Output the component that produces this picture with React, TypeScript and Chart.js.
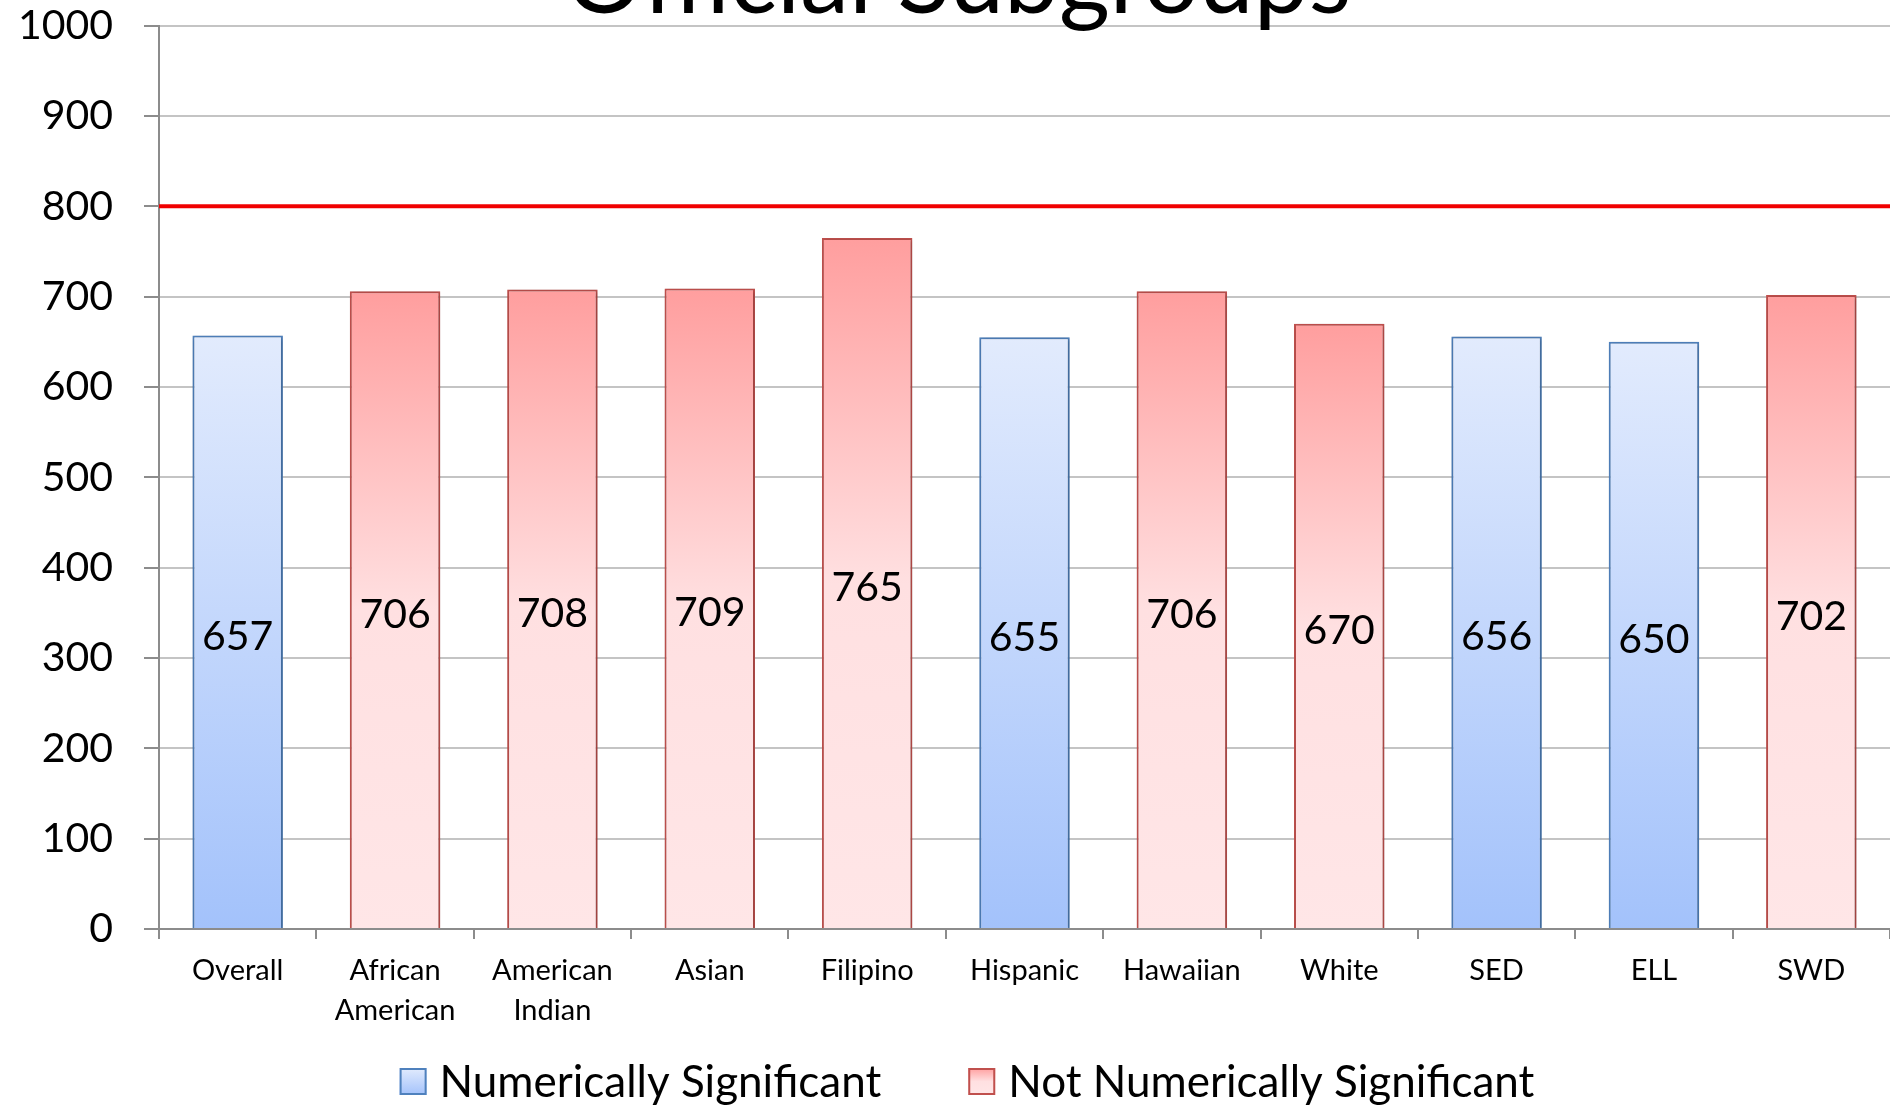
import React, { useEffect, useRef } from 'react';
import { Chart, registerables } from 'chart.js';

Chart.register(...registerables);

const TITLE = 'Official Subgroups';
const CATEGORIES: (string | string[])[] = [
  'Overall',
  ['African', 'American'],
  ['American', 'Indian'],
  'Asian',
  'Filipino',
  'Hispanic',
  'Hawaiian',
  'White',
  'SED',
  'ELL',
  'SWD',
];
const SCORES = [657, 706, 708, 709, 765, 655, 706, 670, 656, 650, 702];
const SIGNIFICANT = [true, false, false, false, false, true, false, false, true, true, false];
const SERIES_NAMES = ['Numerically Significant', 'Not Numerically Significant'];
const TARGET = 800;
const Y_MIN = 0;
const Y_MAX = 1000;
const Y_STEP = 100;

const SIG_VALUES = SCORES.map((v, i) => (SIGNIFICANT[i] ? v : null));
const NOT_SIG_VALUES = SCORES.map((v, i) => (SIGNIFICANT[i] ? null : v));

const FONT = 'Lato, "Open Sans", sans-serif';
const BLUE_BORDER = '#4f81bd';
const RED_BORDER = '#c0504d';
const BLUE_STOPS: [number, string][] = [[0, '#e2ebfd'], [1, '#a3c2fb']];
const RED_STOPS: [number, string][] = [[0, '#ff9e9e'], [0.5, '#ffe0e1'], [1, '#ffe6e7']];

function makeGradient(c: CanvasRenderingContext2D, top: number, bottom: number, stops: [number, string][]) {
  const g = c.createLinearGradient(0, top, 0, bottom);
  stops.forEach(([o, col]) => g.addColorStop(o, col));
  return g;
}

function barFill(stops: [number, string][]) {
  return (ctx: any) => {
    const chart = ctx.chart;
    const v = ctx.raw;
    const ys = chart.scales && chart.scales.y;
    if (ctx.type !== 'data' || v == null || !ys || !chart.chartArea) return stops[stops.length - 1][1];
    const top = ys.getPixelForValue(v);
    const bottom = ys.getPixelForValue(0);
    return makeGradient(chart.ctx, top, bottom, stops);
  };
}

const titlePlugin = {
  id: 'topTitle',
  afterDraw(chart: any) {
    const c = chart.ctx as CanvasRenderingContext2D;
    c.save();
    c.font = `98px ${FONT}`;
    c.fillStyle = '#000';
    c.textAlign = 'center';
    c.textBaseline = 'alphabetic';
    c.fillText(TITLE, 958, 13);
    c.restore();
  },
};

const targetLinePlugin = {
  id: 'targetLine',
  afterDatasetsDraw(chart: any) {
    const c = chart.ctx as CanvasRenderingContext2D;
    const y = chart.scales.y.getPixelForValue(TARGET);
    const { left, right } = chart.chartArea;
    c.save();
    c.strokeStyle = '#f00000';
    c.lineWidth = 4;
    c.beginPath();
    c.moveTo(left, y);
    c.lineTo(right, y);
    c.stroke();
    c.restore();
  },
};

const shadowPlugin = {
  id: 'barShadow',
  beforeDatasetsDraw(chart: any) {
    const c = chart.ctx as CanvasRenderingContext2D;
    c.save();
    c.shadowColor = 'rgba(0,0,0,0.28)';
    c.shadowBlur = 4;
    c.shadowOffsetX = 1;
    c.shadowOffsetY = 1;
  },
  afterDatasetsDraw(chart: any) {
    chart.ctx.restore();
  },
};

const valueLabelPlugin = {
  id: 'valueLabels',
  afterDatasetsDraw(chart: any) {
    const c = chart.ctx as CanvasRenderingContext2D;
    c.save();
    c.font = `41px ${FONT}`;
    c.fillStyle = '#000';
    c.textAlign = 'center';
    c.textBaseline = 'middle';
    chart.data.datasets.forEach((ds: any, di: number) => {
      const meta = chart.getDatasetMeta(di);
      meta.data.forEach((el: any, i: number) => {
        const v = ds.data[i];
        if (v == null) return;
        c.fillText(String(v), el.x, (el.y + el.base) / 2 + 5);
      });
    });
    c.restore();
  },
};

const legendPlugin = {
  id: 'bottomLegend',
  afterDraw(chart: any) {
    const c = chart.ctx as CanvasRenderingContext2D;
    const box = 27;
    const gapText = 13;
    const gapItem = 87;
    const baseline = 1097;
    const centerX = 967;
    c.save();
    c.font = `44px ${FONT}`;
    const widths = SERIES_NAMES.map((n) => c.measureText(n).width);
    const total = widths.reduce((a, w) => a + box + gapText + w, 0) + gapItem * (SERIES_NAMES.length - 1);
    let x = centerX - total / 2;
    const boxTop = 1068;
    SERIES_NAMES.forEach((name, i) => {
      const stops = i === 0 ? BLUE_STOPS : RED_STOPS;
      c.fillStyle = makeGradient(c, boxTop, boxTop + box, stops);
      c.fillRect(x, boxTop, box, box);
      c.strokeStyle = i === 0 ? BLUE_BORDER : RED_BORDER;
      c.lineWidth = 2;
      c.strokeRect(x + 1, boxTop + 1, box - 2, box - 2);
      c.fillStyle = '#000';
      c.textAlign = 'left';
      c.textBaseline = 'alphabetic';
      c.fillText(name, x + box + gapText, baseline);
      x += box + gapText + widths[i] + gapItem;
    });
    c.restore();
  },
};

export default function App() {
  const ref = useRef<HTMLCanvasElement | null>(null);
  useEffect(() => {
    if (!ref.current) return;
    Chart.defaults.font.family = FONT;
    const chart = new Chart(ref.current, {
      type: 'bar',
      data: {
        labels: CATEGORIES,
        datasets: [
          {
            label: SERIES_NAMES[0],
            data: SIG_VALUES,
            backgroundColor: barFill(BLUE_STOPS),
            borderColor: BLUE_BORDER,
            borderWidth: 2,
          },
          {
            label: SERIES_NAMES[1],
            data: NOT_SIG_VALUES,
            backgroundColor: barFill(RED_STOPS),
            borderColor: RED_BORDER,
            borderWidth: 2,
          },
        ],
      } as any,
      options: {
        responsive: false,
        animation: false,
        devicePixelRatio: 1,
        layout: { padding: { top: 0, left: 0, right: 0, bottom: 78 } },
        datasets: { bar: { categoryPercentage: 1, barPercentage: 0.575 } },
        plugins: {
          legend: { display: false },
          title: { display: false },
          tooltip: { enabled: false },
        },
        scales: {
          x: {
            stacked: true,
            offset: true,
            grid: {
              display: true,
              drawOnChartArea: false,
              drawTicks: true,
              tickLength: 10,
              tickColor: '#8c8c8c',
              lineWidth: 2,
              offset: true,
            },
            border: { display: true, color: '#8c8c8c', width: 2 },
            ticks: {
              color: '#000',
              padding: 12,
              maxRotation: 0,
              autoSkip: false,
              font: { size: 29, lineHeight: 40 / 29 },
            },
            afterFit: (scale: any) => {
              scale.height = 98;
            },
          },
          y: {
            stacked: true,
            min: Y_MIN,
            max: Y_MAX,
            grid: {
              color: '#c4c4c4',
              lineWidth: 2,
              drawTicks: true,
              tickLength: 15,
              tickColor: '#8c8c8c',
            },
            border: { display: true, color: '#8c8c8c', width: 2 },
            ticks: {
              stepSize: Y_STEP,
              color: '#000',
              padding: 31,
              font: { size: 41, lineHeight: 1.25 },
              callback: (v: any) => String(v),
            },
            afterFit: (scale: any) => {
              scale.width = 159;
              scale.paddingTop = 25.7;
              scale.paddingBottom = 25.7;
            },
          },
        },
      } as any,
      plugins: [shadowPlugin, targetLinePlugin, valueLabelPlugin, titlePlugin, legendPlugin],
    });
    return () => chart.destroy();
  }, []);
  return (
    <div style={{ position: 'fixed', left: 0, top: 0, width: 1890, height: 1105, background: '#fff' }}>
      <canvas ref={ref} width={1890} height={1105} style={{ display: 'block', width: 1890, height: 1105 }} />
    </div>
  );
}
